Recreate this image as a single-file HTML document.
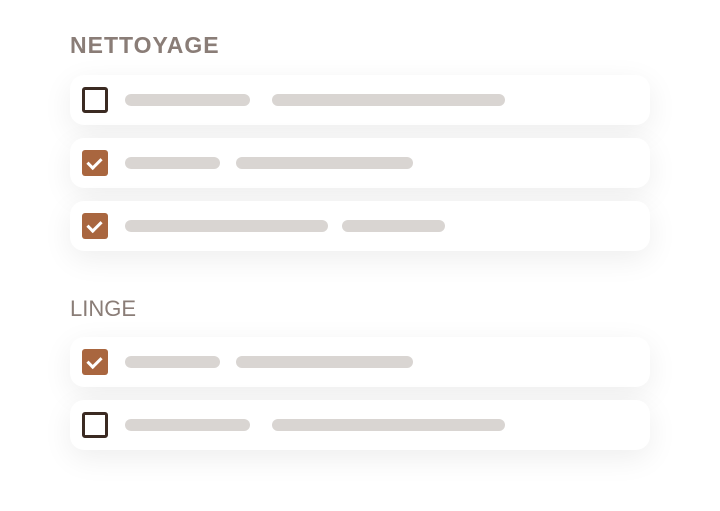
<!DOCTYPE html><html><head><style>
body{margin:0;width:720px;height:511px;background:#fff;position:relative;overflow:hidden;font-family:"Liberation Sans",sans-serif}
.t{position:absolute;left:70px;color:#8a7d77;font-size:22px}
.c{position:absolute;left:70px;width:580px;height:50px;background:#fff;border-radius:14px;box-shadow:0 8px 30px rgba(0,0,0,0.07)}
.b{position:absolute;left:12px;top:12px;width:26px;height:26px;box-sizing:border-box;border-radius:3px}
.u{border:3px solid #3b2a22;background:#fff}
.k{background:#a9663f}
.k:after{content:"";position:absolute;left:8px;top:5px;width:6px;height:11px;border:solid #fff;border-width:0 3px 3px 0;transform:rotate(45deg)}
.l{position:absolute;top:19px;height:12px;border-radius:6px;background:#d9d5d2}
</style></head><body>
<div class="t" style="top:32px;font-weight:bold;font-size:23px;letter-spacing:1px">NETTOYAGE</div>
<div class="c" style="top:75px"><div class="b u"></div><div class="l" style="left:55px;width:125px"></div><div class="l" style="left:202px;width:233px"></div></div>
<div class="c" style="top:138px"><div class="b k"></div><div class="l" style="left:55px;width:95px"></div><div class="l" style="left:166px;width:177px"></div></div>
<div class="c" style="top:201px"><div class="b k"></div><div class="l" style="left:55px;width:203px"></div><div class="l" style="left:272px;width:103px"></div></div>
<div class="t" style="top:296px;font-weight:300">LINGE</div>
<div class="c" style="top:337px"><div class="b k"></div><div class="l" style="left:55px;width:95px"></div><div class="l" style="left:166px;width:177px"></div></div>
<div class="c" style="top:400px"><div class="b u"></div><div class="l" style="left:55px;width:125px"></div><div class="l" style="left:202px;width:233px"></div></div>
</body></html>
